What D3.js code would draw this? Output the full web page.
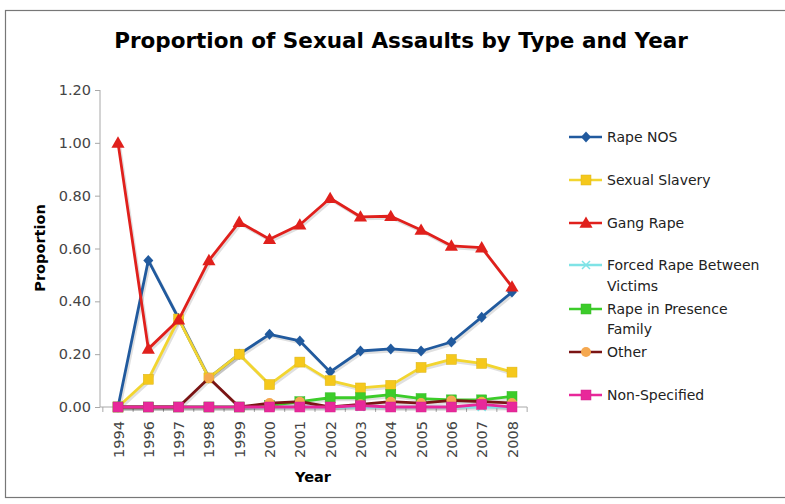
<!DOCTYPE html>
<html><head><meta charset="utf-8">
<script src="https://cdn.jsdelivr.net/npm/d3@7"></script>
<style>body{margin:0;background:#fff}svg{display:block}text{font-family:"DejaVu Sans",Verdana,sans-serif}</style>
</head><body><svg id="c" width="785" height="504"></svg>
<script>
const years = ["1994","1996","1997","1998","1999","2000","2001","2002","2003","2004","2005","2006","2007","2008"];
const yTicks = [0,0.2,0.4,0.6,0.8,1.0,1.2];
const rapeNOS      = [0,0.555,0.335,0.11,0.20,0.275,0.25,0.133,0.212,0.22,0.212,0.246,0.34,0.435];
const sexualSlavery= [0,0.105,0.333,0.11,0.20,0.085,0.17,0.10,0.072,0.082,0.15,0.18,0.165,0.132];
const gangRape     = [1.0,0.22,0.33,0.555,0.70,0.635,0.69,0.79,0.72,0.722,0.67,0.61,0.603,0.455];
const forcedRape   = [0,0,0,0,0,0,0,0,0,0,0,0,0,0];
const presenceFam  = [0,0,0,0,0,0.005,0.02,0.035,0.035,0.047,0.032,0.027,0.027,0.04];
const other        = [0,0,0,0.11,0,0.015,0.02,0,0.01,0.02,0.015,0.025,0.02,0.015];
const nonSpecified = [0,0,0,0,0,0,0,0,0.005,0,0,0,0.01,0];
const seriesNames = ["Rape NOS","Sexual Slavery","Gang Rape","Forced Rape Between Victims","Rape in Presence Family","Other","Non-Specified"];

const series = [
  {name:seriesNames[0], values:rapeNOS, line:"#215a9e", fill:"#215a9e", shape:"diamond"},
  {name:seriesNames[1], values:sexualSlavery, line:"#f2d530", fill:"#f5c81c", shape:"square"},
  {name:seriesNames[2], values:gangRape, line:"#e0201c", fill:"#e0201c", shape:"triangle"},
  {name:seriesNames[3], values:forcedRape, line:"#7fe3e6", fill:"#7fe3e6", shape:"x"},
  {name:seriesNames[4], values:presenceFam, line:"#3ccc2a", fill:"#3ccc2a", shape:"square"},
  {name:seriesNames[5], values:other, line:"#7a1414", fill:"#f5a850", shape:"circle"},
  {name:seriesNames[6], values:nonSpecified, line:"#e8289a", fill:"#e8289a", shape:"square"}
];

const svg = d3.select("#c");
svg.append("rect").attr("x",5.5).attr("y",10.5).attr("width",790).attr("height",487)
  .attr("fill","#fff").attr("stroke","#777").attr("stroke-width",1.2);

svg.append("text").attr("x",401).attr("y",48).attr("text-anchor","middle")
  .attr("font-weight","bold").attr("font-size",21.5).attr("fill","#000")
  .text("Proportion of Sexual Assaults by Type and Year");

const x = d3.scalePoint().domain(years).range([118,512]);
const step = x.step();
const y = d3.scaleLinear().domain([0,1.2]).range([407,90]);

// y axis
const yAxis = d3.axisLeft(y).tickValues(yTicks).tickFormat(d3.format(".2f")).tickSize(5).tickPadding(4);
const gy = svg.append("g").attr("transform","translate(100,0)").call(yAxis);
gy.select(".domain").attr("stroke","#a8a8a8").attr("d","M0,"+y(1.2)+"V"+y(0));
gy.selectAll(".tick line").attr("stroke","#a8a8a8");
gy.selectAll(".tick text").attr("font-size",14.5).attr("fill","#444").attr("font-family","DejaVu Sans, Verdana, sans-serif");

// x axis
const xb = d3.scaleBand().domain(years).range([118-step/2,512+step/2]);
const gx = svg.append("g").attr("transform","translate(0,"+y(0)+")");
gx.append("line").attr("x1",100).attr("x2",xb.range()[1]).attr("y1",0).attr("y2",0).attr("stroke","#a8a8a8");
const bounds = years.map(d=>xb(d)).concat([xb.range()[1]]);
gx.selectAll("line.t").data(bounds).join("line").attr("class","t")
  .attr("x1",d=>d).attr("x2",d=>d).attr("y1",0).attr("y2",5).attr("stroke","#a8a8a8");
gx.selectAll("text").data(years).join("text")
  .attr("transform",d=>"translate("+(x(d)+5.5)+",14) rotate(-90)")
  .attr("text-anchor","end").attr("font-size",14.5).attr("fill","#444").text(d=>d);

svg.append("text").attr("transform","translate(45,248) rotate(-90)").attr("text-anchor","middle")
  .attr("font-weight","bold").attr("font-size",14.5).attr("fill","#000").text("Proportion");
svg.append("text").attr("x",313).attr("y",482).attr("text-anchor","middle")
  .attr("font-weight","bold").attr("font-size",14.5).attr("fill","#000").text("Year");

function marker(g, s, cx, cy){
  if(s.shape==="diamond"){
    g.append("path").attr("d","M0,-5.5L5,0L0,5.5L-5,0Z").attr("transform","translate("+cx+","+cy+")").attr("fill",s.fill);
  } else if(s.shape==="square"){
    g.append("rect").attr("x",cx-5).attr("y",cy-5).attr("width",10).attr("height",10).attr("fill",s.fill).attr("stroke",d3.color(s.fill).darker(0.3)).attr("stroke-width",0.5);
  } else if(s.shape==="triangle"){
    g.append("path").attr("d",d3.symbol(d3.symbolTriangle, 75)()).attr("transform","translate("+cx+","+(cy+1)+")").attr("fill",s.fill);
  } else if(s.shape==="circle"){
    g.append("circle").attr("cx",cx).attr("cy",cy).attr("r",5).attr("fill",s.fill);
  } else {
    g.append("path").attr("d","M-4,-4L4,4M-4,4L4,-4").attr("transform","translate("+cx+","+cy+")").attr("stroke",s.fill).attr("stroke-width",1.5);
  }
}

const line = d3.line().x((d,i)=>x(years[i])).y(d=>y(d));
const plot = svg.append("g");
series.forEach(s=>{
  plot.append("path").datum(s.values).attr("d",line).attr("fill","none")
    .attr("stroke","#000").attr("stroke-opacity",0.12).attr("stroke-width",3)
    .attr("transform","translate(1.5,2)").attr("stroke-linejoin","round");
});
series.forEach(s=>{
  const g = plot.append("g");
  g.append("path").datum(s.values).attr("d",line).attr("fill","none")
    .attr("stroke",s.line).attr("stroke-width",2.8).attr("stroke-linejoin","round");
  s.values.forEach((v,i)=>marker(g,s,x(years[i]),y(v)));
});

// legend
const legRows = [[137],[180],[223],[265,286],[309,329],[352],[395]];
const leg = svg.append("g");
series.forEach((s,i)=>{
  const yy = legRows[i][0];
  const g = leg.append("g");
  g.append("line").attr("x1",569).attr("x2",602).attr("y1",yy).attr("y2",yy).attr("stroke",s.line).attr("stroke-width",2.5);
  marker(g,s,586,yy);
  const lines = i===3 ? ["Forced Rape Between","Victims"] : i===4 ? ["Rape in Presence","Family"] : [s.name];
  lines.forEach((t,j)=>{
    g.append("text").attr("x",607).attr("y",legRows[i][j]+5).attr("font-size",14).attr("fill","#222").text(t);
  });
});
</script></body></html>
